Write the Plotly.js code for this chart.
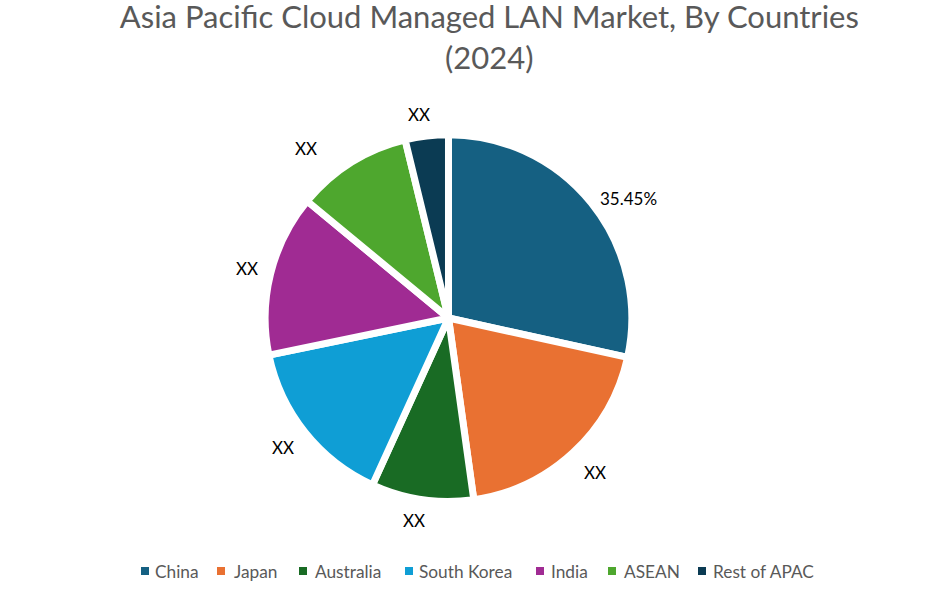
<!DOCTYPE html>
<html><head><meta charset="utf-8">
<script src="https://cdn.plot.ly/plotly-3.0.1.min.js"></script>
<style>html,body{margin:0;padding:0;background:#fff}</style></head>
<body><div id="chart" style="width:952px;height:600px"></div>
<script>
const categories = ["China","Japan","Australia","South Korea","India","ASEAN","Rest of APAC"];
const shares = [28.45,19.35,9.0,14.95,14.25,10.2,3.8];
const sliceLabels = ["35.45%","XX","XX","XX","XX","XX","XX"];
const colors = ["#156082","#E97132","#196B24","#0F9ED5","#A02B93","#4EA72E","#0B3B53"];
// layout only: pixel anchors for the callouts and the legend row
const W = 952, H = 600, FONT = "Lato, Carlito, sans-serif";
const labelX = [628,595,414,283,247,306,419], labelY = [198,472,520,447,268,148,115];
const swatchX = [141,217,299,405,536,608,698], legendTextX = [154,233,314,418,550,623,712], legendY = 571;
const px = x => x/W, py = y => 1-y/H;

const annotations = [];
const shapes = [];
categories.forEach((c,i)=>{
  annotations.push({text:sliceLabels[i],xref:"paper",yref:"paper",x:px(labelX[i]),y:py(labelY[i]),
    xanchor:"center",yanchor:"middle",showarrow:false,font:{family:FONT,size:17,color:"#000"}});
  annotations.push({text:c,xref:"paper",yref:"paper",x:px(legendTextX[i]),y:py(legendY),
    xanchor:"left",yanchor:"middle",showarrow:false,xshift:-1,font:{family:FONT,size:17.3,color:"#595959"}});
  shapes.push({type:"rect",xref:"paper",yref:"paper",x0:px(swatchX[i]),x1:px(swatchX[i]+8),
    y0:py(legendY+4),y1:py(legendY-4),fillcolor:colors[i],line:{width:0}});
});
Plotly.newPlot("chart",[{
  type:"pie",labels:categories,values:shares,textinfo:"none",sort:false,direction:"clockwise",rotation:0,
  marker:{colors:colors,line:{color:"#fff",width:7}},
  domain:{x:[0.2785,0.6637],y:[0.150,0.790]},automargin:false,hoverinfo:"label+percent"
}],{
  width:W,height:H,paper_bgcolor:"#fff",margin:{l:0,r:0,t:0,b:0},showlegend:false,
  title:{text:"Asia Pacific Cloud Managed LAN Market, By Countries<br>(2024)",
    font:{family:FONT,size:31,color:"#595959"},x:0.514,xanchor:"center",y:0.953,yanchor:"top"},
  annotations:annotations,shapes:shapes
},{displayModeBar:false});
</script></body></html>
